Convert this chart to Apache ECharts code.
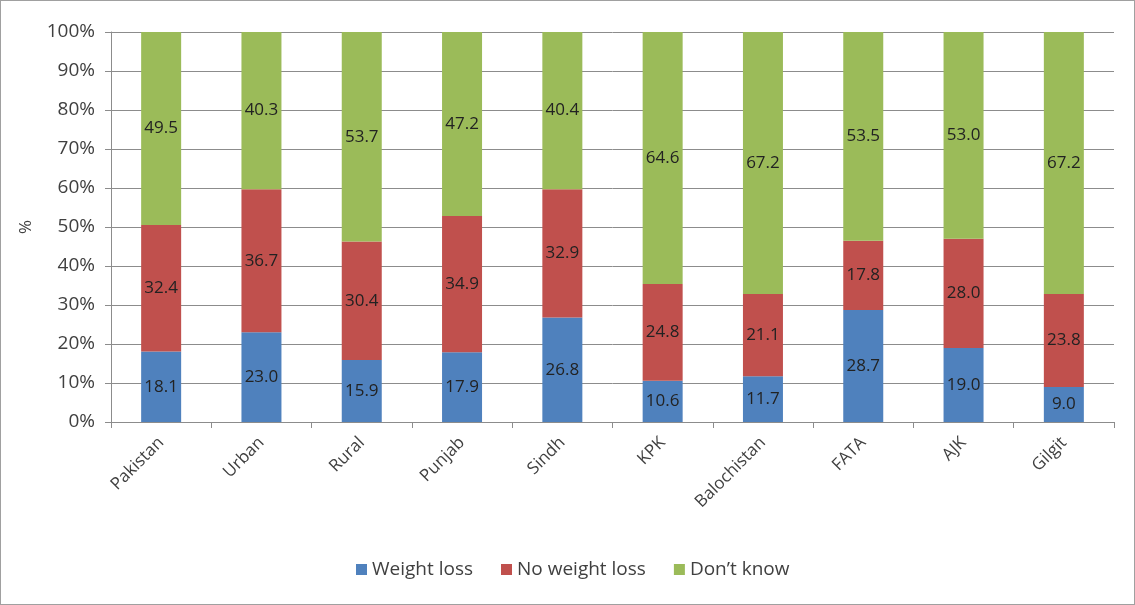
<!DOCTYPE html>
<html><head><meta charset="utf-8">
<script src="https://cdn.jsdelivr.net/npm/echarts@6/dist/echarts.min.js"></script>
<style>html,body{margin:0;padding:0;background:#fff}#c{width:1135px;height:605px;box-sizing:border-box;border:1px solid #a0a0a0;}</style>
</head><body><div id="c"></div>
<script>
const categories = ['Pakistan','Urban','Rural','Punjab','Sindh','KPK','Balochistan','FATA','AJK','Gilgit'];
const weightLoss = [18.1,23.0,15.9,17.9,26.8,10.6,11.7,28.7,19.0,9.0];
const noWeightLoss = [32.4,36.7,30.4,34.9,32.9,24.8,21.1,17.8,28.0,23.8];
const dontKnow = [49.5,40.3,53.7,47.2,40.4,64.6,67.2,53.5,53.0,67.2];
const seriesNames = ['Weight loss','No weight loss','Don\u2019t know'];
const colors = ['#4F81BD','#C0504D','#9BBB59'];
const font = 'Open Sans';
const chart = echarts.init(document.getElementById('c'));
function mk(name, data, color){
  return {name, type:'bar', stack:'t', data, barWidth:40, itemStyle:{color},
    label:{show:true, position:'inside', formatter:p=>p.value.toFixed(1), color:'#222', fontFamily:font, fontSize:17}};
}
chart.setOption({
  animation:false,
  color:colors,
  grid:{left:110, right:20, top:31, bottom:182},
  legend:{bottom:20, left:350, itemWidth:11, itemHeight:11, itemGap:28, icon:'rect',
    textStyle:{fontFamily:font, fontSize:19, color:'#404040'}},
  xAxis:{type:'category', data:categories, boundaryGap:true,
    axisLine:{lineStyle:{color:'#8c8c8c'}},
    axisTick:{show:true, alignWithLabel:false, length:6, lineStyle:{color:'#8c8c8c'}},
    axisLabel:{rotate:45, fontFamily:font, fontSize:17, color:'#404040', margin:18, interval:0}},
  yAxis:{type:'value', min:0, max:100, interval:10, name:'%', nameLocation:'middle', nameGap:76, nameRotate:90,
    nameTextStyle:{fontFamily:font, fontSize:17, color:'#404040'},
    axisLine:{show:true, lineStyle:{color:'#8c8c8c'}},
    axisTick:{show:true, length:6, lineStyle:{color:'#8c8c8c'}},
    axisLabel:{formatter:v=>v+'%', fontFamily:font, fontSize:19, color:'#404040', margin:16},
    splitLine:{lineStyle:{color:'#8c8c8c'}}},
  series:[mk(seriesNames[0],weightLoss,colors[0]), mk(seriesNames[1],noWeightLoss,colors[1]), mk(seriesNames[2],dontKnow,colors[2])]
});
</script></body></html>
